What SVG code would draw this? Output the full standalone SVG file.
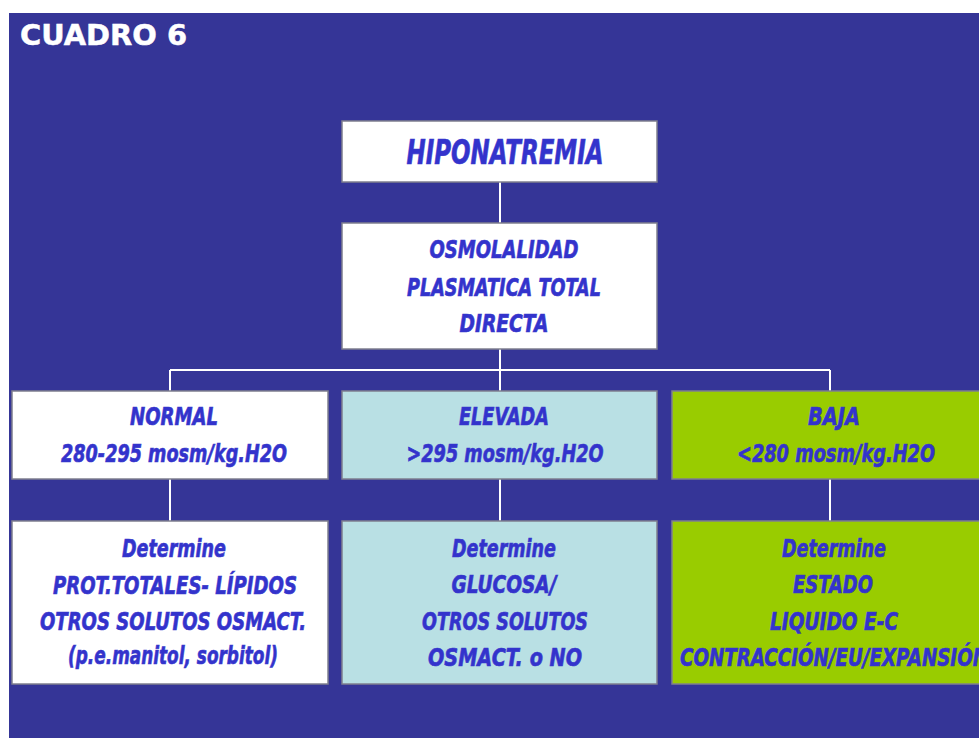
<svg xmlns="http://www.w3.org/2000/svg" width="979" height="738" viewBox="0 0 979 738">
<style>
.box{stroke:#7f7f8f;stroke-width:1.5}
.w{fill:#ffffff}
.b{fill:#b9e0e4}
.g{fill:#99cc00}
.t{font-family:"DejaVu Sans",Verdana,sans-serif;font-weight:bold;font-style:italic;fill:#3333cc;stroke:#3838cc;stroke-width:0.7;font-size:25px;text-anchor:middle}
.big{font-size:34px}
.con{stroke:#ffffff;stroke-width:2;fill:none}
.title{font-family:"DejaVu Sans",Verdana,sans-serif;font-weight:bold;fill:#ffffff;stroke:#ffffff;stroke-width:0.5;font-size:29px}
</style>
<rect x="0" y="0" width="979" height="738" fill="#ffffff"/>
<rect x="9" y="13" width="970" height="725" fill="#353597"/>
<text class="title" x="20" y="45" textLength="167" lengthAdjust="spacingAndGlyphs">CUADRO 6</text>
<g id="connectors">
<path class="con" d="M500 182V223M500 349V370M170 370H830M170 370V391M500 370V391M830 370V391M170 479V521M500 479V521M830 479V521"/>
</g>
<g id="hiponatremia">
<rect class="box w" x="342" y="121" width="315" height="61"/>
<text class="t big" x="505" y="164" textLength="197" lengthAdjust="spacingAndGlyphs">HIPONATREMIA</text>
</g>
<g id="osmolalidad">
<rect class="box w" x="342" y="223" width="315" height="126"/>
<text class="t" x="504" y="258" textLength="149" lengthAdjust="spacingAndGlyphs">OSMOLALIDAD</text>
<text class="t" x="504" y="296" textLength="194" lengthAdjust="spacingAndGlyphs">PLASMATICA TOTAL</text>
<text class="t" x="504" y="332" textLength="89" lengthAdjust="spacingAndGlyphs">DIRECTA</text>
</g>
<g id="normal">
<rect class="box w" x="12" y="391" width="316" height="88"/>
<text class="t" x="174" y="425" textLength="88" lengthAdjust="spacingAndGlyphs">NORMAL</text>
<text class="t" x="174" y="462" textLength="226" lengthAdjust="spacingAndGlyphs">280-295 mosm/kg.H2O</text>
</g>
<g id="elevada">
<rect class="box b" x="342" y="391" width="315" height="88"/>
<text class="t" x="504" y="425" textLength="90" lengthAdjust="spacingAndGlyphs">ELEVADA</text>
<text class="t" x="505" y="462" textLength="197" lengthAdjust="spacingAndGlyphs">&gt;295 mosm/kg.H2O</text>
</g>
<g id="baja">
<rect class="box g" x="672" y="391" width="320" height="88"/>
<text class="t" x="834" y="425" textLength="52" lengthAdjust="spacingAndGlyphs">BAJA</text>
<text class="t" x="836" y="462" textLength="198" lengthAdjust="spacingAndGlyphs">&lt;280 mosm/kg.H2O</text>
</g>
<g id="determine-normal">
<rect class="box w" x="12" y="521" width="316" height="163"/>
<text class="t" x="174" y="557" textLength="104" lengthAdjust="spacingAndGlyphs">Determine</text>
<text class="t" x="175" y="594" textLength="244" lengthAdjust="spacingAndGlyphs">PROT.TOTALES- LÍPIDOS</text>
<text class="t" x="173" y="630" textLength="266" lengthAdjust="spacingAndGlyphs">OTROS SOLUTOS OSMACT.</text>
<text class="t" x="173" y="664" textLength="210" lengthAdjust="spacingAndGlyphs">(p.e.manitol, sorbitol)</text>
</g>
<g id="determine-elevada">
<rect class="box b" x="342" y="521" width="315" height="163"/>
<text class="t" x="504" y="557" textLength="104" lengthAdjust="spacingAndGlyphs">Determine</text>
<text class="t" x="504" y="593" textLength="105" lengthAdjust="spacingAndGlyphs">GLUCOSA/</text>
<text class="t" x="505" y="630" textLength="166" lengthAdjust="spacingAndGlyphs">OTROS SOLUTOS</text>
<text class="t" x="505" y="666" textLength="154" lengthAdjust="spacingAndGlyphs">OSMACT. o NO</text>
</g>
<g id="determine-baja">
<rect class="box g" x="672" y="521" width="320" height="163"/>
<text class="t" x="834" y="557" textLength="104" lengthAdjust="spacingAndGlyphs">Determine</text>
<text class="t" x="833" y="593" textLength="80" lengthAdjust="spacingAndGlyphs">ESTADO</text>
<text class="t" x="834" y="630" textLength="128" lengthAdjust="spacingAndGlyphs">LIQUIDO E-C</text>
<text class="t" x="834" y="666" textLength="308" lengthAdjust="spacingAndGlyphs">CONTRACCIÓN/EU/EXPANSIÓN</text>
</g>
</svg>
